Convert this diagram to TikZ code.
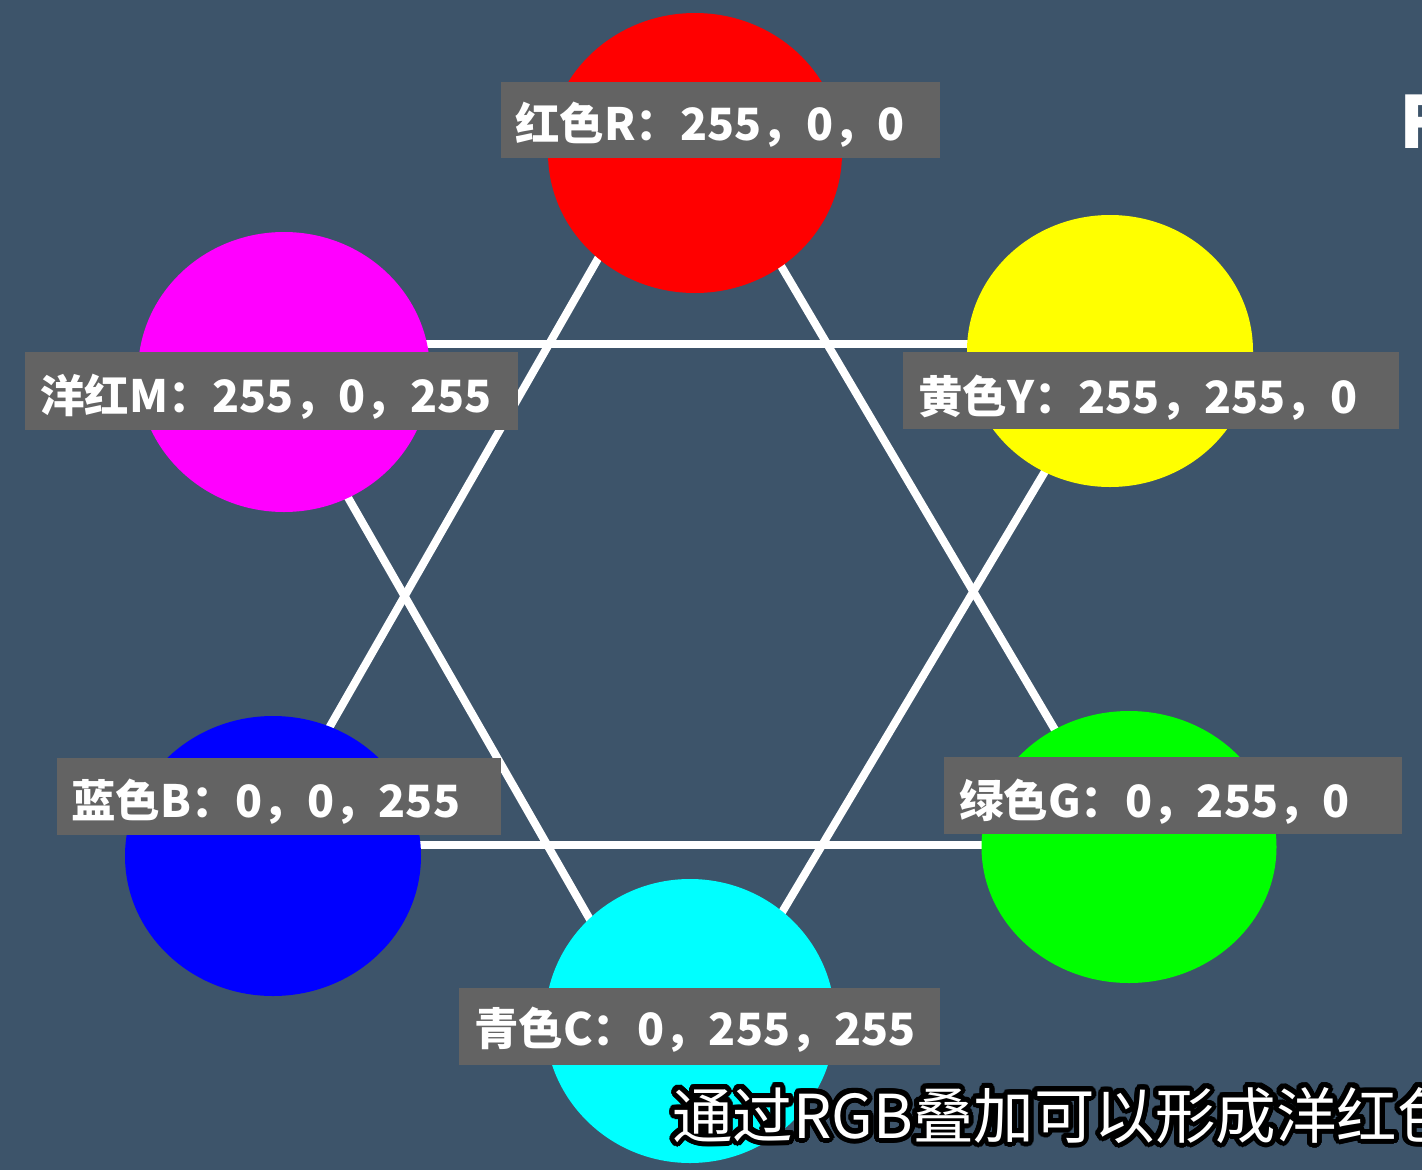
\documentclass[tikz,border=0pt]{standalone}
\usepackage{fontspec}
\setmainfont{Noto Sans CJK SC}
\usepackage[copies]{contour}
\usetikzlibrary{shapes.geometric}
\definecolor{bgblue}{RGB}{61,84,106}
\definecolor{boxgray}{RGB}{99,99,99}
\tikzset{
  disc/.style={ellipse, inner sep=0pt, draw=none},
  edge/.style={draw=white, line width=8pt},
  labbox/.style={rectangle, fill=boxgray, inner sep=0pt, anchor=north west},
  labtxt/.style={anchor=base west, inner sep=0pt, text=white, font=\fontsize{44.5}{50}\selectfont\bfseries},
}
\begin{document}
\begin{tikzpicture}[x=1pt,y=-1pt]
\fill[bgblue] (0,0) rectangle (1422,1170);
\useasboundingbox (0,0) rectangle (1422,1170);
\clip (0,0) rectangle (1422,1170);

% triangle vertices
\coordinate (ta) at (686,105);
\coordinate (tb) at (262,845);
\coordinate (tc) at (1123,845);
\coordinate (ua) at (260,344);
\coordinate (ub) at (1121,344);
\coordinate (uc) at (682,1080);

\draw[edge] (ta) -- (tb);
\draw[edge] (ta) -- (tc);
\draw[edge] (tb) -- (tc);
\draw[edge] (ua) -- (ub);
\draw[edge] (ua) -- (uc);
\draw[edge] (ub) -- (uc);

% discs
\node[disc, fill={rgb,255:red,255;green,0;blue,0}, minimum width=294pt, minimum height=280pt] (R) at (695,153) {};
\node[disc, fill={rgb,255:red,255;green,255;blue,0}, minimum width=286pt, minimum height=272pt] (Y) at (1110,351) {};
\node[disc, fill={rgb,255:red,255;green,0;blue,255}, minimum width=292pt, minimum height=280pt] (M) at (284,372) {};
\node[disc, fill={rgb,255:red,0;green,0;blue,255}, minimum width=296pt, minimum height=280pt] (B) at (273,856) {};
\node[disc, fill={rgb,255:red,0;green,255;blue,0}, minimum width=295pt, minimum height=272pt] (G) at (1129,847) {};
\node[disc, fill={rgb,255:red,0;green,255;blue,255}, minimum width=290pt, minimum height=284pt] (C) at (690,1021) {};

% label boxes
\node[labbox, minimum width=439pt, minimum height=76pt] (Rbox) at (501,82) {};
\node[labbox, minimum width=496pt, minimum height=77pt] (Ybox) at (903,352) {};
\node[labbox, minimum width=493pt, minimum height=78pt] (Mbox) at (25,352) {};
\node[labbox, minimum width=444pt, minimum height=77pt] (Bbox) at (57,758) {};
\node[labbox, minimum width=458pt, minimum height=77pt] (Gbox) at (944,757) {};
\node[labbox, minimum width=481pt, minimum height=77pt] (Cbox) at (459,988) {};

% label texts
\node[labtxt] (Rtxt) at (515,140) {红色R：255，0，0};
\node[labtxt] (Ytxt) at (918,413) {黄色Y：255，255，0};
\node[labtxt] (Mtxt) at (40,412) {洋红M：255，0，255};
\node[labtxt] (Btxt) at (71,817) {蓝色B：0，0，255};
\node[labtxt] (Gtxt) at (959,817) {绿色G：0，255，0};
\node[labtxt] (Ctxt) at (474,1045) {青色C：0，255，255};

% partial title at right edge
\node[anchor=base west, inner sep=0pt, text=white, font=\fontsize{72}{80}\selectfont\bfseries] (title) at (1399,148) {F};

% subtitle
\contourlength{5pt}
\contournumber{32}
\node[anchor=base west, inner sep=0pt, text=white, font=\fontsize{60.5}{70}\selectfont] (sub) at (672,1138) {\contour{black}{通过RGB叠加可以形成洋红色}};
\end{tikzpicture}
\end{document}
